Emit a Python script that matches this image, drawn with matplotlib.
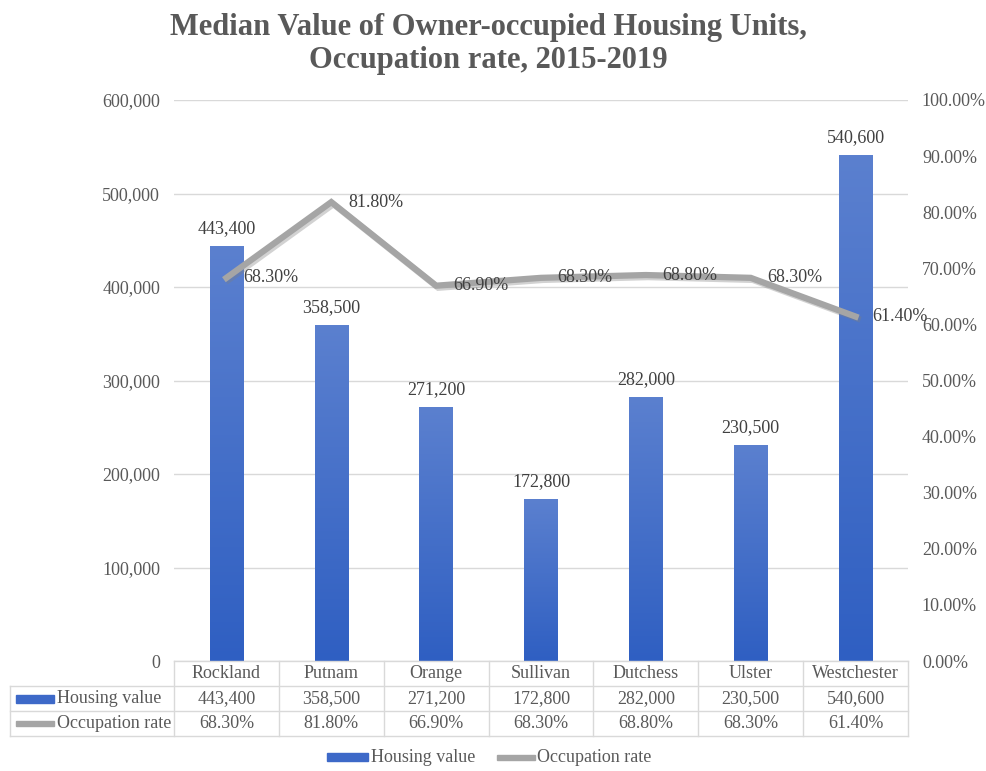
import numpy as np
import matplotlib
matplotlib.use('Agg')
import matplotlib.pyplot as plt
import matplotlib.patheffects as pe
from matplotlib.transforms import blended_transform_factory
from matplotlib.ticker import FuncFormatter, MultipleLocator

# dados do gráfico
condados = ['Rockland', 'Putnam', 'Orange', 'Sullivan', 'Dutchess', 'Ulster', 'Westchester']
valor_casa = [443400, 358500, 271200, 172800, 282000, 230500, 540600]
taxa_ocup = [68.3, 81.8, 66.9, 68.3, 68.8, 68.3, 61.4]
titulo = 'Median Value of Owner-occupied Housing Units,\nOccupation rate, 2015-2019'
nome_barras = 'Housing value'
nome_linha = 'Occupation rate'

cinza_txt = '#595959'
cinza_grade = '#d9d9d9'
cor_linha = '#a5a5a5'
plt.rcParams['font.family'] = ['Liberation Serif', 'DejaVu Serif']

fig = plt.figure(figsize=(9.86, 7.71), dpi=100)
ax = fig.add_axes([174/986, 1 - 661/771, 734/986, 561/771])
ax2 = ax.twinx()

x = np.arange(len(condados))
larg = 0.32

# barras com degradê (mais claro no topo)
grad = np.linspace(0, 1, 256).reshape(-1, 1)
cmap_barra = matplotlib.colors.LinearSegmentedColormap.from_list('b', ['#2f5fc2', '#5b80cf'])
for xi, v in zip(x, valor_casa):
    ax.imshow(grad, extent=[xi - larg/2, xi + larg/2, 0, v], origin='lower',
              aspect='auto', cmap=cmap_barra, zorder=2)
    ax.annotate(f'{v:,}', (xi, v), xytext=(0, 7), textcoords='offset points',
                ha='center', va='bottom', fontsize=13, color='#404040', zorder=4)

ax.set_xlim(-0.5, len(condados) - 0.5)
ax.set_ylim(0, 600000)
ax.yaxis.set_major_locator(MultipleLocator(100000))
ax.yaxis.set_major_formatter(FuncFormatter(lambda v, p: f'{int(v):,}'))
ax.grid(axis='y', color=cinza_grade, linewidth=1, zorder=0)
ax.set_axisbelow(True)
ax.set_xticks([])
ax.tick_params(axis='y', length=0, pad=10, labelsize=13, labelcolor=cinza_txt)
for s in ax.spines.values():
    s.set_visible(False)

# linha da taxa de ocupação
ax2.plot(x, taxa_ocup, color=cor_linha, linewidth=4.5, solid_joinstyle='miter', zorder=3,
         path_effects=[pe.SimpleLineShadow(offset=(1.5, -1.5), shadow_color='#7f7f7f', alpha=0.35),
                       pe.Normal()])
for xi, t in zip(x, taxa_ocup):
    ax2.annotate(f'{t:.2f}%', (xi, t), xytext=(12, 0), textcoords='offset points',
                 ha='left', va='center', fontsize=13, color='#404040')
ax2.set_ylim(0, 100)
ax2.yaxis.set_major_locator(MultipleLocator(10))
ax2.yaxis.set_major_formatter(FuncFormatter(lambda v, p: f'{v:.2f}%'))
ax2.tick_params(axis='y', length=0, pad=10, labelsize=13, labelcolor=cinza_txt)
for s in ax2.spines.values():
    s.set_visible(False)

# tabela de dados embaixo do gráfico
tr = blended_transform_factory(ax.transData, ax.transAxes)
y_lin = [0, -25/561, -50/561, -75/561]
x_esq = (10 - 174) / 734
bordas = np.arange(len(condados) + 1) - 0.5
kw = dict(color=cinza_grade, linewidth=1, clip_on=False)
# linhas horizontais
ax.plot([-0.5, bordas[-1]], [y_lin[0]] * 2, transform=tr, **kw)
for yy in y_lin[1:]:
    ax.plot([x_esq, 1], [yy, yy], transform=ax.transAxes, **kw)
# linhas verticais
for b in bordas:
    ax.plot([b, b], [y_lin[0], y_lin[3]], transform=tr, **kw)
ax.plot([x_esq, x_esq], [y_lin[1], y_lin[3]], transform=ax.transAxes, **kw)

linhas_tab = [[f'{v:,}' for v in valor_casa], [f'{t:.2f}%' for t in taxa_ocup]]
for xi, nome in zip(x, condados):
    ax.text(xi, (y_lin[0] + y_lin[1]) / 2, nome, transform=tr, ha='center', va='center',
            fontsize=13, color=cinza_txt)
for i, linha in enumerate(linhas_tab):
    yc = (y_lin[i+1] + y_lin[i+2]) / 2
    for xi, s in zip(x, linha):
        ax.text(xi, yc, s, transform=tr, ha='center', va='center', fontsize=13, color=cinza_txt)

# rótulos das linhas com a chave da legenda
for i, (nome, cor, alt) in enumerate([(nome_barras, '#3d69c8', 8), (nome_linha, cor_linha, 5)]):
    yc = (y_lin[i+1] + y_lin[i+2]) / 2
    ax.add_patch(plt.Rectangle((x_esq + 6/734, yc - alt/2/561), 38/734, alt/561,
                               transform=ax.transAxes, color=cor, clip_on=False))
    ax.text(x_esq + 47/734, yc, nome, transform=ax.transAxes, ha='left', va='center',
            fontsize=13, color=cinza_txt)

# legenda
fig.patches.append(plt.Rectangle((327/986, 1 - 761/771), 41/986, 8/771,
                                 transform=fig.transFigure, color='#3d69c8'))
fig.text(371/986, 1 - 757/771, nome_barras, ha='left', va='center', fontsize=13, color=cinza_txt)
fig.patches.append(plt.Rectangle((497/986, 1 - 760/771), 38/986, 5/771,
                                 transform=fig.transFigure, color=cor_linha))
fig.text(537/986, 1 - 757/771, nome_linha, ha='left', va='center', fontsize=13, color=cinza_txt)

fig.text(488/986, 1 - 44/771, titulo, ha='center', va='center', fontsize=22,
         fontweight='bold', color=cinza_txt, linespacing=1.15)

plt.savefig('out.png', dpi=100)
